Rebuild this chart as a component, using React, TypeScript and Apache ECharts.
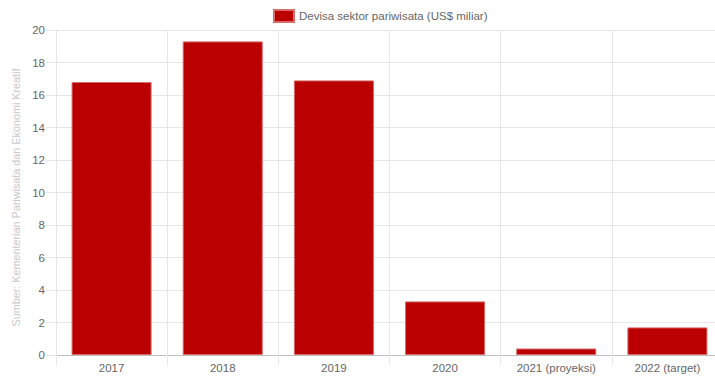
import React, { useEffect, useRef } from "react";
import * as echarts from "echarts";

const categories = ["2017", "2018", "2019", "2020", "2021 (proyeksi)", "2022 (target)"];
const devisa = [16.8, 19.3, 16.9, 3.3, 0.4, 1.7];
const seriesName = "Devisa sektor pariwisata (US$ miliar)";
const yTitle = "Sumber: Kementerian Pariwisata dan Ekonomi Kreatif";

const FONT = "'Liberation Sans', Arial, Helvetica, sans-serif";
const GRID = "#e6e6e6";

export default function App() {
  const ref = useRef<HTMLDivElement>(null);
  useEffect(() => {
    if (!ref.current) return;
    const chart = echarts.init(ref.current, undefined, { renderer: "svg" });
    chart.setOption({
      animation: false,
      textStyle: { fontFamily: FONT },
      legend: {
        left: 268,
        top: 4,
        itemWidth: 20,
        itemHeight: 12,
        itemGap: 10,
        textStyle: { color: "#666", fontSize: 11.5, fontFamily: FONT },
        data: [{ name: seriesName, icon: "rect" }],
      },
      grid: { left: 56, right: 0, top: 30, bottom: 21, containLabel: false },
      xAxis: {
        type: "category",
        data: categories,
        boundaryGap: true,
        axisLine: { show: true, lineStyle: { color: "#bfbfbf", width: 1 } },
        axisTick: { show: true, length: 10, lineStyle: { color: GRID } },
        splitLine: { show: true, lineStyle: { color: GRID, width: 1 } },
        axisLabel: { color: "#666", fontSize: 11.5, fontFamily: FONT, margin: 7 },
      },
      yAxis: {
        type: "value",
        min: 0,
        max: 20,
        interval: 2,
        name: yTitle,
        nameLocation: "middle",
        nameRotate: 90,
        nameGap: 31,
        nameTextStyle: { color: "#c8c8c8", fontSize: 10.8, fontFamily: FONT, padding: [0, 10, 0, 0] },
        axisLine: { show: true, lineStyle: { color: GRID } },
        axisTick: { show: true, length: 10, lineStyle: { color: GRID } },
        splitLine: { show: true, lineStyle: { color: GRID, width: 1 } },
        axisLabel: { color: "#666", fontSize: 11.5, fontFamily: FONT, margin: 11 },
      },
      series: [
        {
          name: seriesName,
          type: "bar",
          data: devisa,
          barWidth: "72%",
          itemStyle: { color: "#bb0000", borderColor: "#d86a6a", borderWidth: 1 },
        },
      ],
    });
    return () => chart.dispose();
  }, []);
  return (
    <div style={{ position: "fixed", left: 0, top: 0, width: 715, height: 376, overflow: "hidden", background: "#fff" }}>
      <div ref={ref} style={{ width: 723, height: 376 }} />
    </div>
  );
}
